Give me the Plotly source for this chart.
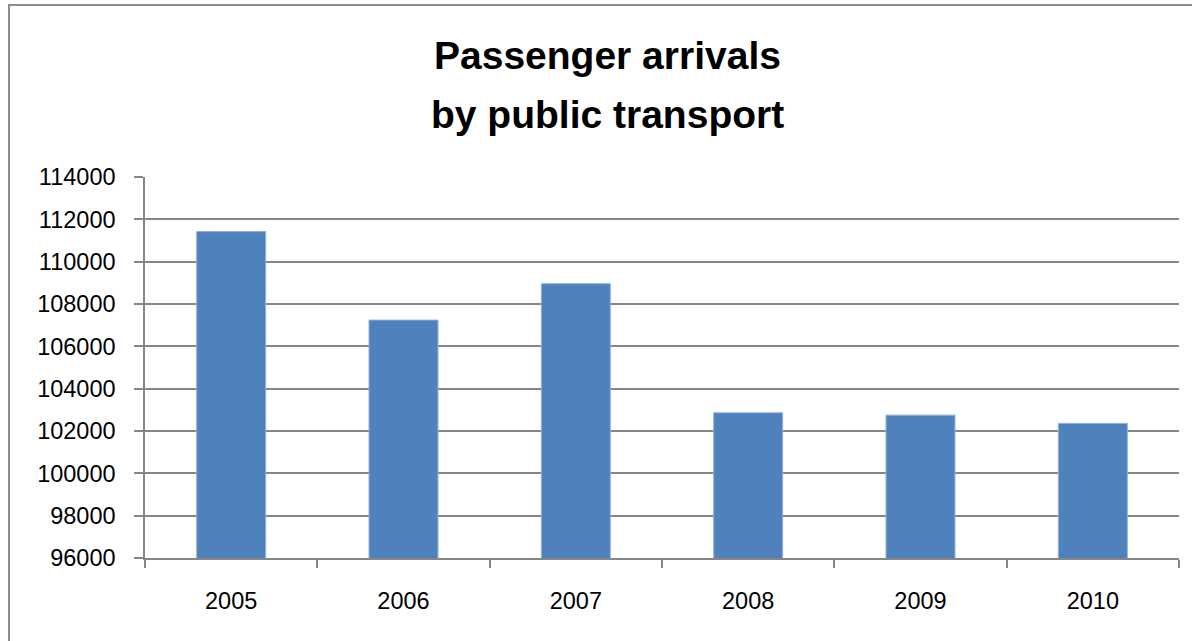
import plotly.graph_objects as go

years = ["2005", "2006", "2007", "2008", "2009", "2010"]
arrivals = [111420, 107240, 108960, 102860, 102750, 102360]
title_lines = ["Passenger arrivals", "by public transport"]

GRID = "#868686"
fig = go.Figure()
fig.add_trace(go.Bar(
    x=years, y=arrivals,
    marker=dict(color="#4F81BD", line=dict(color="#8FAEDA", width=1)),
    width=0.4,
))

fig.update_layout(
    width=1192, height=641,
    margin=dict(l=145, r=13, t=177, b=83),
    paper_bgcolor="white", plot_bgcolor="white",
    showlegend=False,
    font=dict(family="Liberation Sans, Arial, sans-serif", color="black", size=23),
)
fig.update_xaxes(
    type="category",
    showline=True, linecolor=GRID, linewidth=1.5,
    ticks="outside", ticklen=8, tickcolor=GRID, tickwidth=1.5,
    tickson="boundaries",
    showgrid=False,
    tickfont=dict(size=23.5),
    ticklabelstandoff=21,
)
fig.update_yaxes(
    range=[96000, 114000], dtick=2000, tickformat="d",
    showline=True, linecolor=GRID, linewidth=1.5,
    ticks="outside", ticklen=9, tickcolor=GRID, tickwidth=1.5,
    showgrid=True, gridcolor=GRID, gridwidth=1.5,
    tickfont=dict(size=23.5),
    ticklabelstandoff=14,
    zeroline=False,
)

for txt, yy in zip(title_lines, [1.318, 1.165]):
    fig.add_annotation(
        text="<b>%s</b>" % txt, xref="paper", yref="paper",
        x=0.447, y=yy, xanchor="center", yanchor="middle",
        showarrow=False, font=dict(size=39, color="black"),
    )

fig.add_shape(
    type="rect", xref="paper", yref="paper",
    x0=-0.1315, x1=1.1, y0=-0.4, y1=1.4514,
    line=dict(color="#8C8C8C", width=2), fillcolor="rgba(0,0,0,0)",
    layer="below",
)

fig.write_html("out.html")
